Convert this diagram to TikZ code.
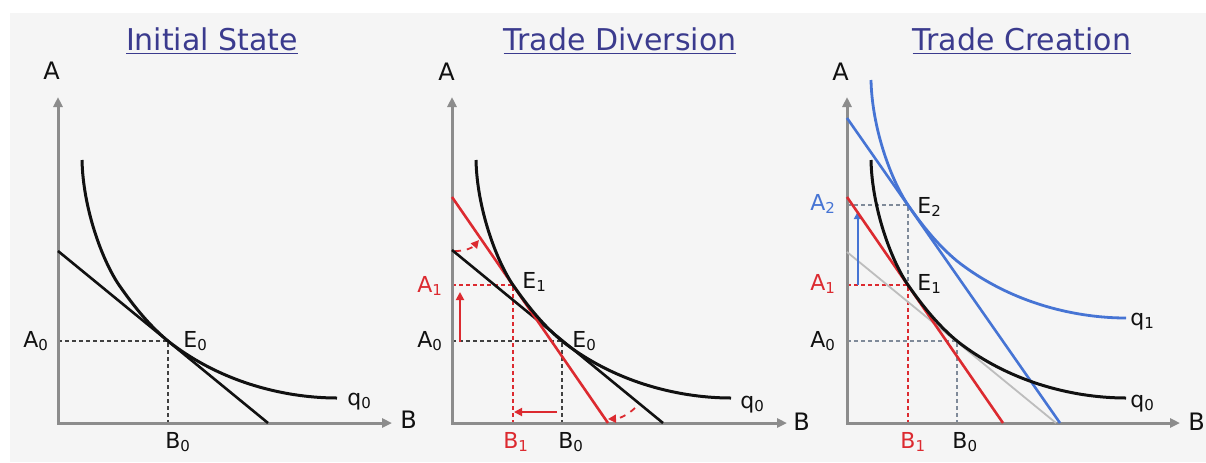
\documentclass[tikz,border=0pt]{standalone}
\usepackage{fontspec}
\setmainfont{DejaVu Sans}
\usetikzlibrary{arrows.meta}
\definecolor{ink}{HTML}{111111}
\definecolor{axisgrey}{HTML}{8C8C8C}
\definecolor{paper}{HTML}{F5F5F5}
\definecolor{titleblue}{HTML}{3B3B8E}
\definecolor{tradered}{HTML}{DC2A30}
\definecolor{tradeblue}{HTML}{4674D4}
\definecolor{oldgrey}{HTML}{BDBDBD}
\definecolor{dashgrey}{HTML}{7F8A99}

\newcommand{\sx}[1]{\raisebox{-1.6pt}{\fontsize{7.5}{7.5}\selectfont #1}}
% isoquant q0, local coordinates (origin at the axes corner)
\def\qpath{(24,-263) .. controls (25,-215) and (44,-163) .. (61,-138)
  .. controls (77,-115) and (92,-97) .. (110,-82)
  .. controls (166,-38) and (232,-25) .. (279,-25)}

\begin{document}
\begin{tikzpicture}[
  x=0.5pt, y=-0.5pt,
  axis/.style={draw=axisgrey, line width=1.5pt,
    {Triangle[length=5pt,width=4.5pt]}-{Triangle[length=5pt,width=4.5pt]}},
  curve/.style={draw=ink, line width=1.5pt},
  budget/.style={draw=ink, line width=1.3pt},
  redline/.style={draw=tradered, line width=1.3pt},
  blueline/.style={draw=tradeblue, line width=1.3pt},
  oldline/.style={draw=oldgrey, line width=0.9pt},
  guide/.style={draw=ink!80, line width=0.6pt, dash pattern=on 2pt off 1.5pt},
  redguide/.style={guide, draw=tradered},
  greyguide/.style={guide, draw=dashgrey},
  shiftarr/.style={-{Triangle[length=4pt,width=4pt]}, line width=0.9pt, draw=tradered},
  lab/.style={font=\fontsize{11}{11}\selectfont, text=ink, inner sep=0pt, anchor=base west},
  axlab/.style={lab, font=\fontsize{12}{12}\selectfont},
  ttl/.style={font=\fontsize{15}{15}\selectfont, text=titleblue, inner sep=0pt, anchor=base}
]
\useasboundingbox (0,0) rectangle (1206,462);
\fill[white] (0,0) rectangle (1206,462);
\fill[paper] (10,13) rectangle (1206,462);

\node[ttl] (t1) at (212,50) {\underline{Initial State}};
\node[ttl] (t2) at (620,50) {\underline{Trade Diversion}};
\node[ttl] (t3) at (1022,50) {\underline{Trade Creation}};

% initial state
\begin{scope}[shift={(58,423)}]
  \coordinate (o1) at (0,0);
  \coordinate (e0a) at (110,-82);
  \draw[guide] (0,-82) -- (e0a) -- (110,0);
  \draw[axis] (0,-326) -- (o1) -- (334,0);
  \draw[budget] (0,-172) -- (210,0);
  \draw[curve] \qpath;
  \node[axlab] (ya1) at (-15,-344) {A};
  \node[axlab] (xb1) at (342,5) {B};
  \node[lab] (la0) at (-35,-76) {A\sx{0}};
  \node[lab] (le0) at (125,-76) {E\sx{0}};
  \node[lab] (lb0) at (107,25) {B\sx{0}};
  \node[lab] (lq0) at (289,-18) {q\sx{0}};
\end{scope}

% trade diversion
\begin{scope}[shift={(452,423)}]
  \coordinate (o2) at (0,0);
  \coordinate (e0b) at (110,-82);
  \coordinate (e1b) at (61,-138);
  \draw[guide] (0,-82) -- (e0b) -- (110,0);
  \draw[redguide] (0,-138) -- (e1b) -- (61,0);
  \draw[axis] (0,-326) -- (o2) -- (335,0);
  \draw[shiftarr] (8,-81) -- (8,-131);
  \draw[shiftarr] (105,-11) -- (62,-11);
  \draw[shiftarr, dashed] (3,-172) to[bend right=25] (27,-183);
  \draw[shiftarr, dashed] (183,-15) to[bend left=20] (156,-4);
  \draw[budget] (0,-173) -- (211,0);
  \draw[redline] (0,-226) -- (156,0);
  \draw[curve] \qpath;
  \node[axlab] (ya2) at (-14,-343) {A};
  \node[axlab] (xb2) at (341,7) {B};
  \node[lab, text=tradered] (la1b) at (-35,-131) {A\sx{1}};
  \node[lab] (la0b) at (-35,-76) {A\sx{0}};
  \node[lab] (le1b) at (70,-135) {E\sx{1}};
  \node[lab] (le0b) at (120,-76) {E\sx{0}};
  \node[lab, text=tradered] (lb1b) at (51,25) {B\sx{1}};
  \node[lab] (lb0b) at (106,25) {B\sx{0}};
  \node[lab] (lq0b) at (288,-15) {q\sx{0}};
\end{scope}

% trade creation
\begin{scope}[shift={(847,423)}]
  \coordinate (o3) at (0,0);
  \coordinate (e0c) at (110,-82);
  \coordinate (e1c) at (61,-138);
  \coordinate (e2c) at (61,-218);
  \draw[greyguide] (0,-82) -- (e0c) -- (110,0);
  \draw[greyguide] (0,-218) -- (e2c) -- (e1c);
  \draw[redguide] (0,-138) -- (e1c) -- (61,0);
  \draw[axis] (0,-326) -- (o3) -- (333,0);
  \draw[oldline] (0,-171) -- (209,0);
  \draw[shiftarr, draw=tradeblue] (11,-138) -- (11,-212);
  \draw[redline] (0,-226) -- (156,0);
  \draw[blueline] (0,-305) -- (213,0);
  \draw[curve] \qpath;
  \draw[curve, draw=tradeblue, line width=1.4pt, shift={(0,-80)}] \qpath;
  \node[axlab] (ya3) at (-15,-343) {A};
  \node[axlab] (xb3) at (341,7) {B};
  \node[lab, text=tradeblue] (la2c) at (-37,-213) {A\sx{2}};
  \node[lab, text=tradered] (la1c) at (-37,-133) {A\sx{1}};
  \node[lab] (la0c) at (-37,-76) {A\sx{0}};
  \node[lab] (le2c) at (70,-210) {E\sx{2}};
  \node[lab] (le1c) at (70,-133) {E\sx{1}};
  \node[lab, text=tradered] (lb1c) at (53,25) {B\sx{1}};
  \node[lab] (lb0c) at (105,25) {B\sx{0}};
  \node[lab] (lq1c) at (283,-98) {q\sx{1}};
  \node[lab] (lq0c) at (283,-16) {q\sx{0}};
\end{scope}
\end{tikzpicture}
\end{document}
